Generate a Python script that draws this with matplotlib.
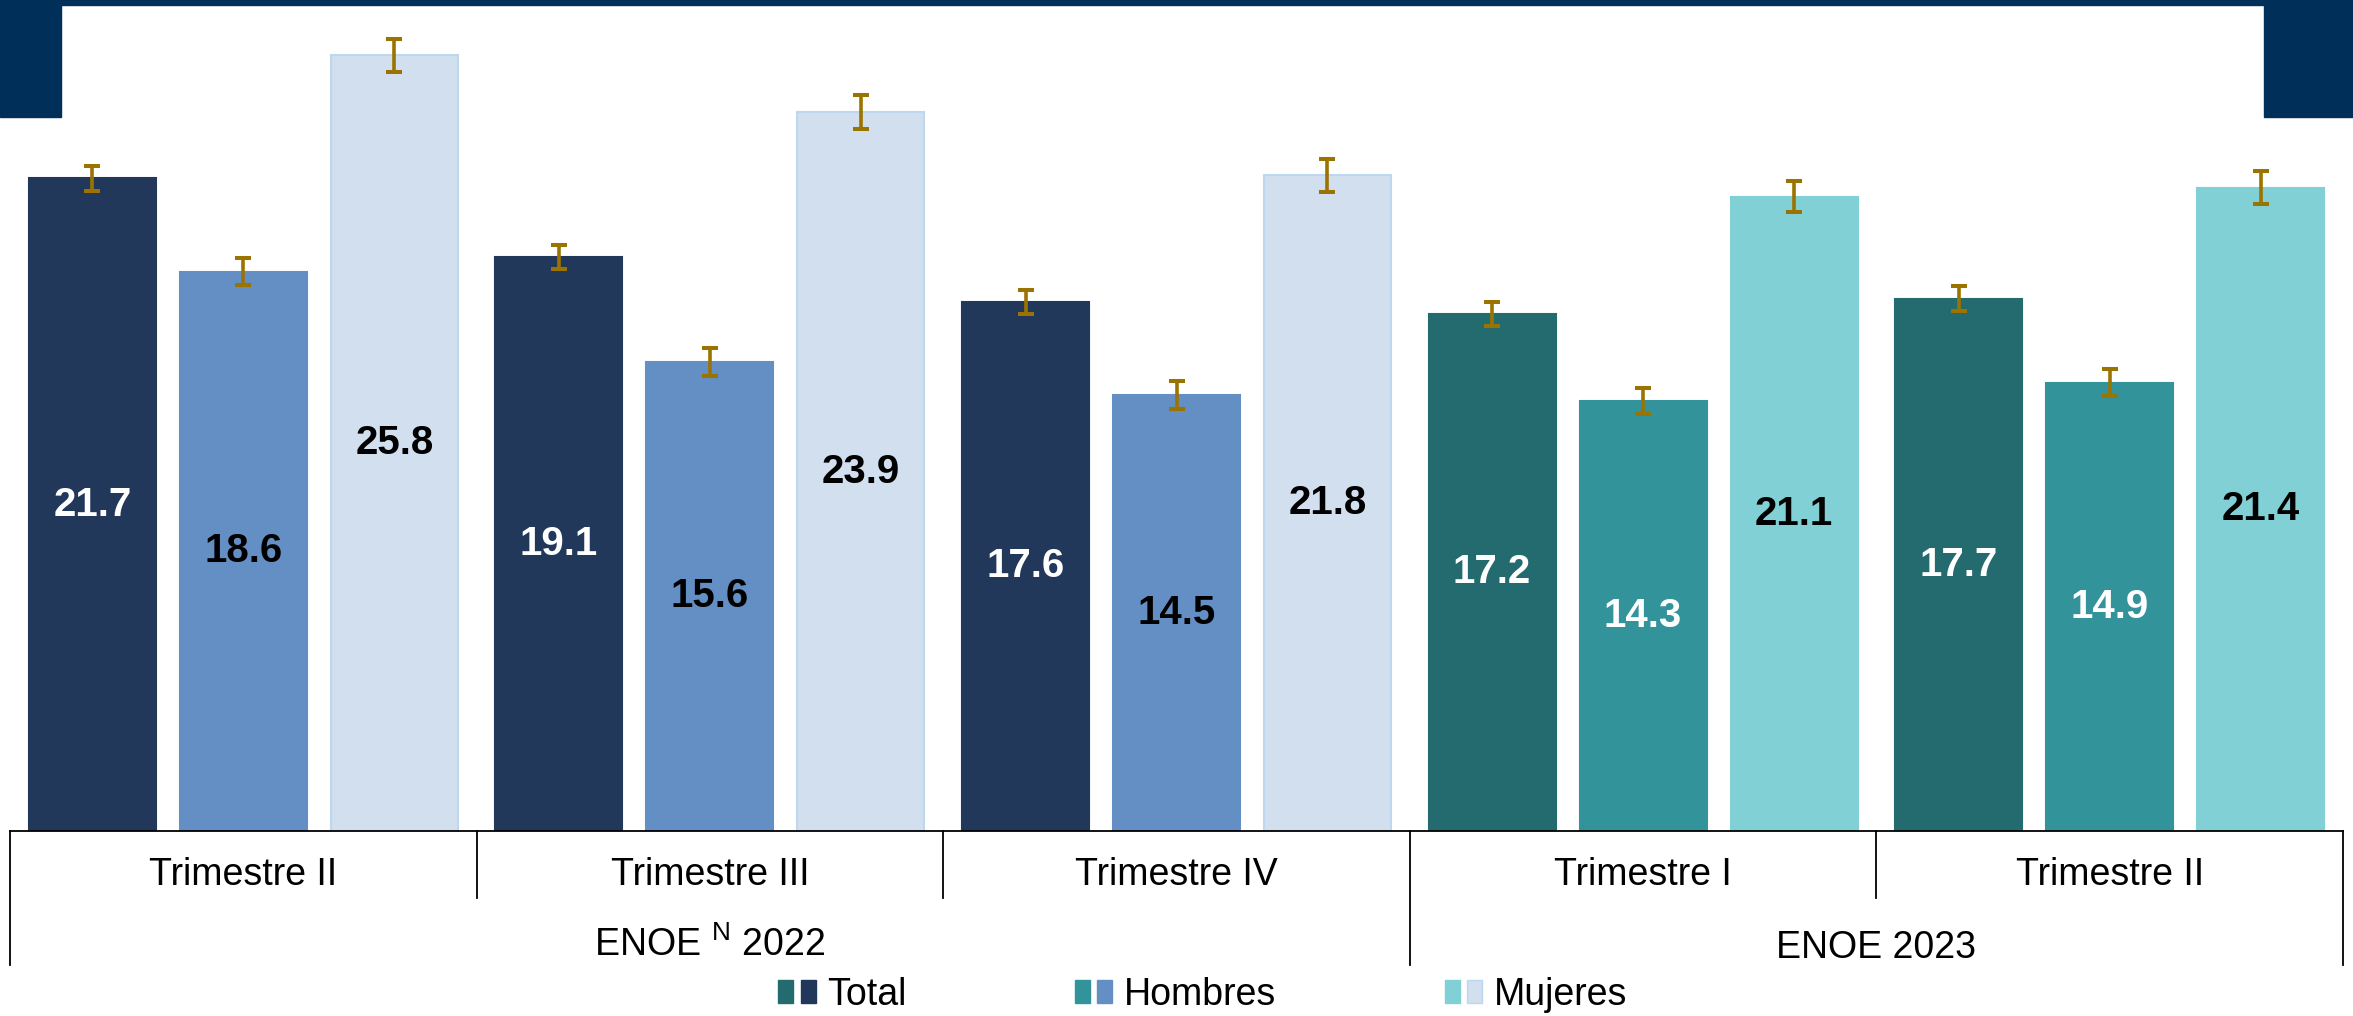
import numpy as np
import matplotlib
matplotlib.use('Agg')
import matplotlib.pyplot as plt
import matplotlib.transforms as mtransforms
from matplotlib.patches import Rectangle, Patch
from matplotlib.legend_handler import HandlerTuple

plt.rcParams['font.family'] = ['Liberation Sans', 'DejaVu Sans']
plt.rcParams['mathtext.fontset'] = 'custom'
plt.rcParams['mathtext.rm'] = 'Liberation Sans'

# data
quarters = ['Trimestre II', 'Trimestre III', 'Trimestre IV', 'Trimestre I', 'Trimestre II']
years = ['ENOE $^{\\mathrm{N}}$ 2022', 'ENOE 2023']
year_of = [0, 0, 0, 1, 1]
series = ['Total', 'Hombres', 'Mujeres']
total = [21.7, 19.1, 17.6, 17.2, 17.7]
hombres = [18.6, 15.6, 14.5, 14.3, 14.9]
mujeres = [25.8, 23.9, 21.8, 21.1, 21.4]
err_total = [0.43, 0.40, 0.40, 0.40, 0.42]
err_hombres = [0.45, 0.47, 0.45, 0.42, 0.45]
err_mujeres = [0.55, 0.57, 0.55, 0.52, 0.55]

values = [total, hombres, mujeres]
errors = [err_total, err_hombres, err_mujeres]

# colours: [series][year]
colors = [['#22385A', '#236B6E'],
          ['#638FC4', '#32939B'],
          ['#D2DFEE', '#80D0D6']]
edges = [['#22385A', '#236B6E'],
         ['#638FC4', '#32939B'],
         ['#BDD7EE', '#80D0D6']]
label_colors = [['white', 'white'],
                ['black', 'white'],
                ['black', 'black']]

W, H = 2353, 1016
fig = plt.figure(figsize=(W / 100, H / 100), dpi=100)
x0, x1, base = 10, 2343, 831
ax = fig.add_axes([x0 / W, 1 - base / H, (x1 - x0) / W, base / H])
ax.set_xlim(-0.5, 4.5)
ax.set_ylim(0, base / 30.07)
ax.axis('off')

offsets = [-0.3236, 0.0, 0.3236]
bw = 0.272
xs = np.arange(len(quarters))
for s in range(3):
    for i in range(len(quarters)):
        y = year_of[i]
        v = values[s][i]
        ax.bar(xs[i] + offsets[s], v, width=bw, color=colors[s][y],
               edgecolor=edges[s][y], linewidth=1.5, zorder=2)
        ax.errorbar(xs[i] + offsets[s], v, yerr=errors[s][i], fmt='none',
                    ecolor='#9B7300', elinewidth=2.6, capsize=5.8,
                    capthick=2.9, zorder=3)
        ax.text(xs[i] + offsets[s], v / 2, '%.1f' % v, ha='center',
                va='center', fontsize=29, fontweight='bold',
                color=label_colors[s][y], zorder=4)

# category axis
tr = mtransforms.blended_transform_factory(ax.transData, fig.transFigure)
def fy(p):
    return 1 - p / H

ax.plot([-0.5, 4.5], [fy(base), fy(base)], color='black', lw=1.3,
        transform=tr, clip_on=False)
for b in [0.5, 1.5, 3.5]:
    ax.plot([b, b], [fy(base), fy(898)], color='black', lw=1.3,
            transform=tr, clip_on=False)
for b in [-0.5, 2.5, 4.5]:
    ax.plot([b, b], [fy(base), fy(965)], color='black', lw=1.3,
            transform=tr, clip_on=False)
for i, q in enumerate(quarters):
    ax.text(xs[i], fy(875), q, ha='center', va='center', fontsize=27,
            transform=tr)
ax.text(1.0, fy(945), years[0], ha='center', va='center', fontsize=27,
        transform=tr)
ax.text(3.5, fy(948), years[1], ha='center', va='center', fontsize=27,
        transform=tr)

# legend
handles = []
for s in range(3):
    handles.append((Patch(facecolor=colors[s][1], edgecolor=edges[s][1]),
                    Patch(facecolor=colors[s][0], edgecolor=edges[s][0])))
fig.legend(handles, series, loc='center', bbox_to_anchor=(0.511, fy(995)),
           ncol=3, frameon=False, fontsize=27, handlelength=1.0,
           handleheight=0.55, handletextpad=0.3, columnspacing=4.5,
           borderpad=0, handler_map={tuple: HandlerTuple(ndivide=None, pad=0.2)})

# header decoration
navy = '#00305A'
fig.patches.append(Rectangle((0, 1 - 5 / H), 1, 5 / H, transform=fig.transFigure,
                             color=navy, zorder=5))
fig.patches.append(Rectangle((0, 1 - 117 / H), 61 / W, 117 / H,
                             transform=fig.transFigure, color=navy, zorder=5))
fig.patches.append(Rectangle((2264 / W, 1 - 117 / H), (W - 2264) / W, 117 / H,
                             transform=fig.transFigure, color=navy, zorder=5))

fig.savefig('out.png', dpi=100)
